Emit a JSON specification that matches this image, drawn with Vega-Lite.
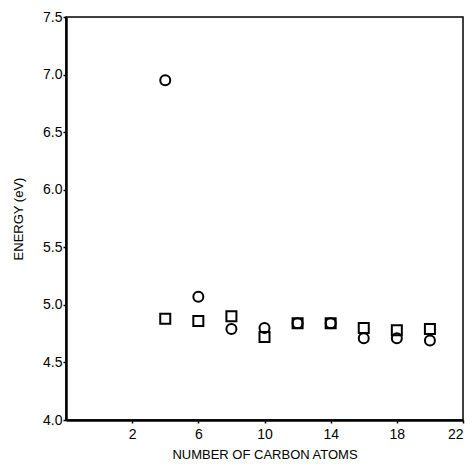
{
  "$schema": "https://vega.github.io/schema/vega-lite/v6.json",
  "width": 397,
  "height": 403,
  "autosize": "none",
  "padding": {"left": 66, "top": 17, "right": 13, "bottom": 46},
  "background": "white",
  "config": {
    "view": {"stroke": "#000000", "strokeWidth": 1.5, "strokeOpacity": 1},
    "font": "Liberation Sans"
  },
  "data": {
    "values": [
      {"carbon": 4, "energy": 6.95, "series": "circle"},
      {"carbon": 6, "energy": 5.07, "series": "circle"},
      {"carbon": 8, "energy": 4.79, "series": "circle"},
      {"carbon": 10, "energy": 4.8, "series": "circle"},
      {"carbon": 12, "energy": 4.84, "series": "circle"},
      {"carbon": 14, "energy": 4.84, "series": "circle"},
      {"carbon": 16, "energy": 4.71, "series": "circle"},
      {"carbon": 18, "energy": 4.71, "series": "circle"},
      {"carbon": 20, "energy": 4.69, "series": "circle"},
      {"carbon": 4, "energy": 4.88, "series": "square"},
      {"carbon": 6, "energy": 4.86, "series": "square"},
      {"carbon": 8, "energy": 4.9, "series": "square"},
      {"carbon": 10, "energy": 4.72, "series": "square"},
      {"carbon": 12, "energy": 4.84, "series": "square"},
      {"carbon": 14, "energy": 4.84, "series": "square"},
      {"carbon": 16, "energy": 4.8, "series": "square"},
      {"carbon": 18, "energy": 4.78, "series": "square"},
      {"carbon": 20, "energy": 4.79, "series": "square"}
    ]
  },
  "mark": {"type": "point", "filled": false, "color": "black", "strokeWidth": 2, "size": 100, "opacity": 1},
  "encoding": {
    "x": {
      "field": "carbon",
      "type": "quantitative",
      "scale": {"domain": [-2, 22], "nice": false, "zero": false},
      "axis": {
        "title": "NUMBER OF CARBON ATOMS",
        "values": [2, 6, 10, 14, 18, 22],
        "grid": false,
        "domainColor": "#000000",
        "domainWidth": 2.5,
        "tickColor": "#000000",
        "tickSize": 3,
        "tickWidth": 1.5,
        "labelColor": "#000000",
        "labelFontSize": 14,
        "labelPadding": 4,
        "titleColor": "#000000",
        "titleFontSize": 13,
        "titleFontWeight": "normal",
        "titlePadding": 7
      }
    },
    "y": {
      "field": "energy",
      "type": "quantitative",
      "scale": {"domain": [4, 7.5], "nice": false, "zero": false},
      "axis": {
        "title": "ENERGY (eV)",
        "values": [4, 4.5, 5, 5.5, 6, 6.5, 7, 7.5],
        "format": ".1f",
        "grid": false,
        "domainColor": "#000000",
        "domainWidth": 2.5,
        "tickColor": "#000000",
        "tickSize": 3,
        "tickWidth": 1.5,
        "labelColor": "#000000",
        "labelFontSize": 14,
        "labelPadding": 1,
        "titleColor": "#000000",
        "titleFontSize": 13,
        "titleFontWeight": "normal",
        "titlePadding": 17
      }
    },
    "shape": {
      "field": "series",
      "type": "nominal",
      "scale": {"domain": ["circle", "square"], "range": ["circle", "square"]},
      "legend": null
    }
  }
}
